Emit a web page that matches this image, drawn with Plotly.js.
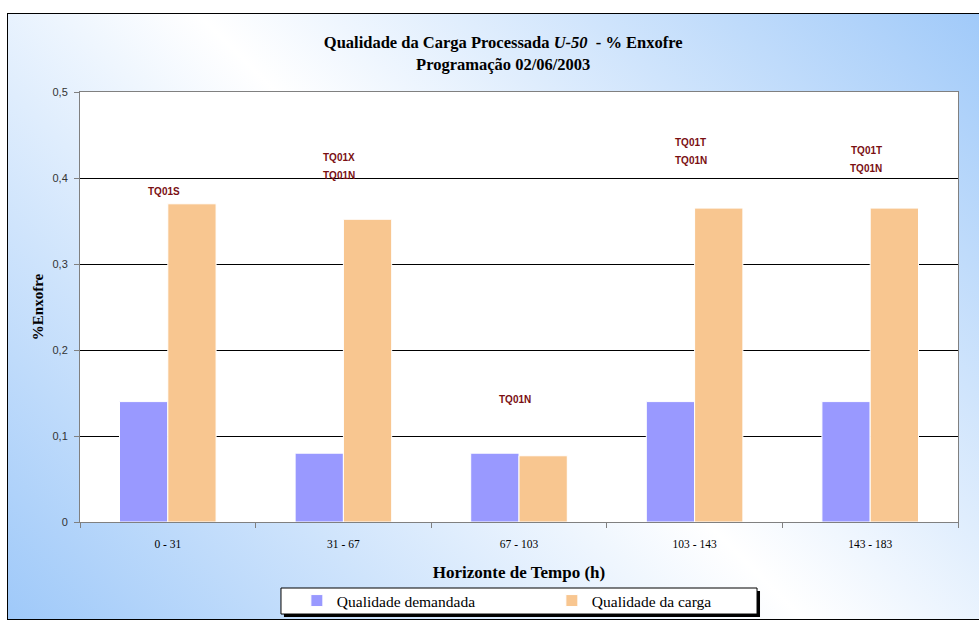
<!DOCTYPE html>
<html>
<head>
<meta charset="utf-8">
<script src="https://cdn.plot.ly/plotly-3.0.1.min.js"></script>
<style>
  html, body { margin: 0; padding: 0; width: 979px; height: 621px; overflow: hidden; background: #ffffff; }
  #bg { position: absolute; left: 7px; top: 13px; width: 985px; height: 605px; border: 1px solid #000;
        background: linear-gradient(45deg, #9fc9f9 0%, #ffffff 50%, #9fc9f9 100%); }
  #chart { position: absolute; left: 0; top: 0; width: 979px; height: 621px; }
</style>
</head>
<body>
<div id="bg"></div>
<div id="chart"></div>
<script>
const categories = ['0 - 31', '31 - 67', '67 - 103', '103 - 143', '143 - 183'];
const qualidadeDemandada = [0.14, 0.08, 0.08, 0.14, 0.14];
const qualidadeCarga = [0.37, 0.352, 0.077, 0.365, 0.365];
const tankLabels = [['TQ01S'], ['TQ01X', 'TQ01N'], ['TQ01N'], ['TQ01T', 'TQ01N'], ['TQ01T', 'TQ01N']];
const tankLabelY = [0.384, 0.413, 0.142, 0.431, 0.4215];
const yTickValues = [0, 0.1, 0.2, 0.3, 0.4, 0.5];
const yTickText = ['0', '0,1', '0,2', '0,3', '0,4', '0,5'];

const traces = [
  { type: 'bar', name: 'Qualidade demandada', x: categories, y: qualidadeDemandada,
    marker: { color: '#9999ff', line: { color: '#ffffff', width: 1 } } },
  { type: 'bar', name: 'Qualidade da carga', x: categories, y: qualidadeCarga,
    marker: { color: '#f8c690', line: { color: '#ffffff', width: 1 } } }
];

const annotations = [];
tankLabels.forEach((lines, i) => {
  lines.forEach((t, j) => {
    annotations.push({
      x: categories[i], y: tankLabelY[i], xref: 'x', yref: 'y',
      text: '<b>' + t + '</b>', showarrow: false, xshift: -4,
      yshift: ((lines.length - 1) / 2 - j) * 18,
      font: { family: 'Liberation Sans, Arial, sans-serif', size: 10, color: '#7a0f12' }
    });
  });
});

const serif = 'Liberation Serif, Times New Roman, serif';
const shapes = [
  { type: 'rect', xref: 'paper', yref: 'paper', x0: 0.2323, x1: 0.7745, y0: -0.2209, y1: -0.1605,
    fillcolor: '#000000', line: { width: 0 }, layer: 'above' },
  { type: 'rect', xref: 'paper', yref: 'paper', x0: 0.2289, x1: 0.7711, y0: -0.2140, y1: -0.1535,
    fillcolor: '#ffffff', line: { color: '#000000', width: 1 }, layer: 'above' }
];

const layout = {
  width: 979, height: 621,
  paper_bgcolor: 'rgba(0,0,0,0)', plot_bgcolor: '#ffffff',
  margin: { l: 80, r: 21, t: 92, b: 99, autoexpand: false },
  separators: ',.',
  barmode: 'group', bargap: 0.45, bargroupgap: 0,
  showlegend: true,
  title: {
    text: '<b>Qualidade da Carga Processada <i>U-50</i>  - % Enxofre<br>Programação 02/06/2003</b>',
    x: 0.514, xref: 'container', xanchor: 'center', y: 0.922, yref: 'container', yanchor: 'middle',
    font: { family: serif, size: 16.5, color: '#000000' }
  },
  xaxis: {
    type: 'category', tickson: 'boundaries', ticks: 'outside', ticklen: 5, tickcolor: '#808080',
    showline: true, linecolor: '#808080', mirror: true, showgrid: false,
    tickfont: { family: serif, size: 11.5, color: '#000000' }, ticklabelstandoff: 11,
    title: { text: '<b>Horizonte de Tempo (h)</b>', font: { family: serif, size: 17, color: '#000000' }, standoff: 17 }
  },
  yaxis: {
    range: [0, 0.5], tickvals: yTickValues, ticktext: yTickText,
    ticks: 'outside', ticklen: 5, tickcolor: '#808080',
    showline: true, linecolor: '#808080', mirror: true,
    showgrid: true, gridcolor: '#000000', gridwidth: 1, zeroline: false,
    tickfont: { family: 'Liberation Sans, Arial, sans-serif', size: 11, color: '#333333' },
    ticklabelstandoff: 4,
    title: { text: '<b>%Enxofre</b>', font: { family: serif, size: 15, color: '#000000' }, standoff: 5 }
  },
  legend: {
    orientation: 'h', x: 0.247, xanchor: 'left', y: -0.1837, yanchor: 'middle',
    bgcolor: 'rgba(0,0,0,0)', borderwidth: 0,
    entrywidth: 210, entrywidthmode: 'pixels',
    font: { family: serif, size: 15.5, color: '#000000' }
  },
  annotations: annotations,
  shapes: shapes
};

Plotly.newPlot('chart', traces, layout, { displayModeBar: false, staticPlot: true });
</script>
</body>
</html>
